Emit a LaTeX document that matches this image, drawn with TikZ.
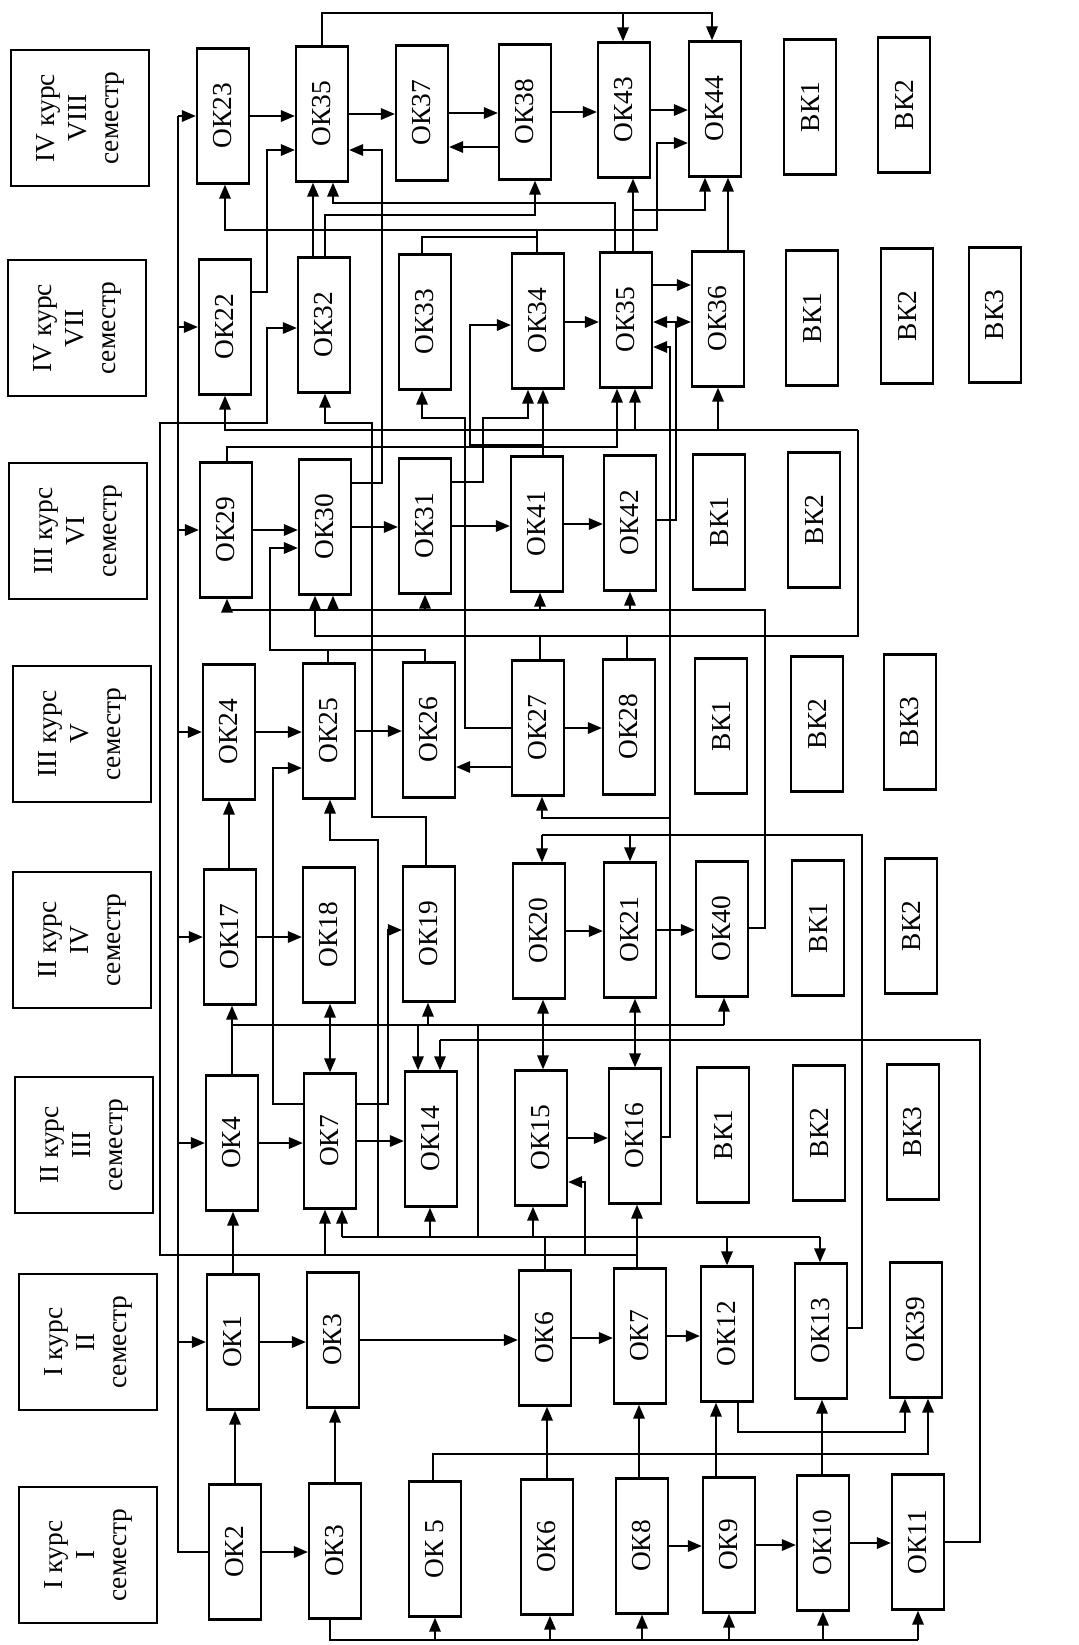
\documentclass[tikz,border=0pt]{standalone}
\usepackage{fontspec}
\setmainfont{Liberation Serif}
\usetikzlibrary{arrows.meta}

\newcommand{\rt}[1]{\rotatebox{90}{#1}}
\newcommand{\hd}[2]{\rotatebox{90}{\begin{tabular}{@{}c@{}}#1\\#2\\семестр\end{tabular}}}

\begin{document}
\begin{tikzpicture}[
    x=0.01cm, y=-0.01cm,
    okbox/.style={draw, line width=0.65pt, minimum width=0.52cm, minimum height=1.35cm,
      inner sep=0pt, font=\fontsize{7.8}{9}\selectfont},
    hdbox/.style={draw, line width=0.65pt, minimum width=1.38cm, minimum height=1.36cm,
      inner sep=0pt, font=\fontsize{7.8}{9.2}\selectfont},
    ln/.style={line width=0.5pt},
    arr/.style={ln, -{Triangle[length=1.4mm, width=1.15mm]}},
    darr/.style={ln, {Triangle[length=1.4mm, width=1.15mm]}-{Triangle[length=1.4mm, width=1.15mm]}},
  ]
  \useasboundingbox (0,0) rectangle (1078,1645);

  % semester headers
  \node[hdbox] (hd8) at (80,118) {\hd{IV курс}{VIII}};
  \node[hdbox] (hd7) at (77,328) {\hd{IV курс}{VII}};
  \node[hdbox] (hd6) at (78,531) {\hd{III курс}{VI}};
  \node[hdbox] (hd5) at (82,734) {\hd{III курс}{V}};
  \node[hdbox] (hd4) at (82,940) {\hd{II курс}{IV}};
  \node[hdbox] (hd3) at (84,1145) {\hd{II курс}{III}};
  \node[hdbox] (hd2) at (88,1342) {\hd{I курс}{II}};
  \node[hdbox] (hd1) at (88,1555) {\hd{I курс}{I}};

  % VIII semester
  \node[okbox] (ok23) at (223,116) {\rt{ОК23}};
  \node[okbox] (ok35r8) at (322,114) {\rt{ОК35}};
  \node[okbox] (ok37) at (422,113) {\rt{ОК37}};
  \node[okbox] (ok38) at (525,112) {\rt{ОК38}};
  \node[okbox] (ok43) at (624,110) {\rt{ОК43}};
  \node[okbox] (ok44) at (715,109) {\rt{ОК44}};
  \node[okbox] (vk1r8) at (810,107) {\rt{ВК1}};
  \node[okbox] (vk2r8) at (904,105) {\rt{ВК2}};

  % VII semester
  \node[okbox] (ok22) at (225,327) {\rt{ОК22}};
  \node[okbox] (ok32) at (324,325) {\rt{ОК32}};
  \node[okbox] (ok33) at (425,322) {\rt{ОК33}};
  \node[okbox] (ok34) at (538,321) {\rt{ОК34}};
  \node[okbox] (ok35r7) at (626,320) {\rt{ОК35}};
  \node[okbox] (ok36) at (718,319) {\rt{ОК36}};
  \node[okbox] (vk1r7) at (812,318) {\rt{ВК1}};
  \node[okbox] (vk2r7) at (907,316) {\rt{ВК2}};
  \node[okbox] (vk3r7) at (995,315) {\rt{ВК3}};

  % VI semester
  \node[okbox] (ok29) at (226,530) {\rt{ОК29}};
  \node[okbox] (ok30) at (325,527) {\rt{ОК30}};
  \node[okbox] (ok31) at (425,526) {\rt{ОК31}};
  \node[okbox] (ok41) at (537,524) {\rt{ОК41}};
  \node[okbox] (ok42) at (630,523) {\rt{ОК42}};
  \node[okbox] (vk1r6) at (719,522) {\rt{ВК1}};
  \node[okbox] (vk2r6) at (814,520) {\rt{ВК2}};

  % V semester
  \node[okbox] (ok24) at (229,732) {\rt{ОК24}};
  \node[okbox] (ok25) at (329,731) {\rt{ОК25}};
  \node[okbox] (ok26) at (429,730) {\rt{ОК26}};
  \node[okbox] (ok27) at (538,728) {\rt{ОК27}};
  \node[okbox] (ok28) at (629,727) {\rt{ОК28}};
  \node[okbox] (vk1r5) at (721,726) {\rt{ВК1}};
  \node[okbox] (vk2r5) at (817,724) {\rt{ВК2}};
  \node[okbox] (vk3r5) at (910,722) {\rt{ВК3}};

  % IV semester
  \node[okbox] (ok17) at (230,937) {\rt{ОК17}};
  \node[okbox] (ok18) at (329,935) {\rt{ОК18}};
  \node[okbox] (ok19) at (429,934) {\rt{ОК19}};
  \node[okbox] (ok20) at (539,931) {\rt{ОК20}};
  \node[okbox] (ok21) at (630,930) {\rt{ОК21}};
  \node[okbox] (ok40) at (722,929) {\rt{ОК40}};
  \node[okbox] (vk1r4) at (818,928) {\rt{ВК1}};
  \node[okbox] (vk2r4) at (911,926) {\rt{ВК2}};

  % III semester
  \node[okbox] (ok4) at (232,1143) {\rt{ОК4}};
  \node[okbox] (ok7r3) at (330,1141) {\rt{ОК7}};
  \node[okbox] (ok14) at (431,1139) {\rt{ОК14}};
  \node[okbox] (ok15) at (541,1138) {\rt{ОК15}};
  \node[okbox] (ok16) at (635,1136) {\rt{ОК16}};
  \node[okbox] (vk1r3) at (723,1135) {\rt{ВК1}};
  \node[okbox] (vk2r3) at (819,1133) {\rt{ВК2}};
  \node[okbox] (vk3r3) at (913,1132) {\rt{ВК3}};

  % II semester
  \node[okbox] (ok1) at (233,1342) {\rt{ОК1}};
  \node[okbox] (ok3r2) at (333,1340) {\rt{ОК3}};
  \node[okbox] (ok6r2) at (545,1338) {\rt{ОК6}};
  \node[okbox] (ok7r2) at (640,1336) {\rt{ОК7}};
  \node[okbox] (ok12) at (727,1334) {\rt{ОК12}};
  \node[okbox] (ok13) at (821,1331) {\rt{ОК13}};
  \node[okbox] (ok39) at (916,1330) {\rt{ОК39}};

  % I semester
  \node[okbox] (ok2) at (235,1552) {\rt{ОК2}};
  \node[okbox] (ok3r1) at (335,1551) {\rt{ОК3}};
  \node[okbox] (ok5) at (435,1549) {\rt{ОК 5}};
  \node[okbox] (ok6r1) at (547,1547) {\rt{ОК6}};
  \node[okbox] (ok8) at (642,1546) {\rt{ОК8}};
  \node[okbox] (ok9) at (729,1545) {\rt{ОК9}};
  \node[okbox] (ok10) at (823,1543) {\rt{ОК10}};
  \node[okbox] (ok11) at (918,1542) {\rt{ОК11}};

  % arrows inside the rows
  \foreach \a/\b in {ok2/ok3r1, ok8/ok9, ok9/ok10, ok10/ok11,
      ok1/ok3r2, ok3r2/ok6r2, ok6r2/ok7r2, ok7r2/ok12,
      ok4/ok7r3, ok7r3/ok14, ok15/ok16,
      ok17/ok18, ok20/ok21, ok21/ok40,
      ok24/ok25, ok25/ok26, ok27/ok28,
      ok29/ok30, ok30/ok31, ok31/ok41, ok41/ok42,
      ok23/ok35r8, ok35r8/ok37, ok37/ok38, ok38/ok43, ok43/ok44}
    \draw[arr] (\a.east) -- (\a.east -| \b.west);
  \draw[arr] (ok27.west |- 0,767) -- (ok26.east |- 0,767);
  \draw[arr] (ok38.west |- 0,147) -- (ok37.east |- 0,147);

  % arrows between the rows
  \draw[arr] (ok2.north) -- (ok2.north |- ok1.south);
  \draw[arr] (ok3r1.north) -- (ok3r1.north |- ok3r2.south);
  \draw[arr] (ok6r1.north) -- (ok6r1.north |- ok6r2.south);
  \draw[arr] (ok8.north -| 639,0) -- (ok7r2.south -| 639,0);
  \draw[arr] (ok9.north -| 716,0) -- (ok12.south -| 716,0);
  \draw[arr] (ok10.north -| 822,0) -- (ok13.south -| 822,0);
  \draw[arr] (ok1.north) -- (ok1.north |- ok4.south);
  \draw[arr] (ok4.north -| 232,0) -- (ok17.south -| 232,0);
  \draw[arr] (ok17.north -| 229,0) -- (ok24.south -| 229,0);
  \draw[arr] (ok41.north -| 543,0) -- (ok34.south -| 543,0);
  \draw[arr] (ok32.north -| 313,0) -- (ok35r8.south -| 313,0);
  \draw[arr] (ok35r7.north -| 633,0) -- (ok43.south -| 633,0);
  \draw[arr] (ok36.north -| 728,0) -- (ok44.south -| 728,0);
  \draw[darr] (ok7r3.north -| 330,0) -- (ok18.south -| 330,0);
  \draw[darr] (ok15.north -| 543,0) -- (ok20.south -| 543,0);
  \draw[darr] (ok16.north -| 635,0) -- (ok21.south -| 635,0);

  % OK2 feeds every semester
  \draw[ln] (ok2.west) -- (ok2.west -| 178,0) -- (178,116);
  \foreach \n in {ok1, ok4, ok17, ok24, ok29, ok22, ok23}
    \draw[arr] (\n.west -| 178,0) -- (\n.west);

  % bottom bus from OK3
  \draw[ln] (ok3r1.south -| 330,0) -- (330,1640) -- (918,1640);
  \foreach \n/\x in {ok5/435, ok6r1/550, ok8/642, ok9/729, ok10/823, ok11/918}
    \draw[arr] (\x,1640) -- (\n.south -| \x,0);

  % I--II
  \draw[arr] (ok5.north -| 433,0) |- (928,1454) -- (ok39.south -| 928,0);
  \draw[arr] (ok12.south -| 738,0) |- (905,1432) -- (ok39.south -| 905,0);

  % II--III
  \draw[ln] (ok6r2.north -| 545,0) -- (545,1237);
  \draw[ln] (342,1237) -- (820,1237);
  \foreach \n/\x in {ok7r3/342, ok14/430, ok15/533}
    \draw[arr] (\x,1237) -- (\n.south -| \x,0);
  \draw[arr] (727,1237) -- (ok12.north -| 727,0);
  \draw[arr] (820,1237) -- (ok13.north -| 820,0);
  \draw[arr] (ok7r2.north -| 637,0) -- (ok16.south -| 637,0);
  \draw[arr] (637,1255) -| (160,423) -| (267,328) -- (ok32.west |- 0,328);
  \draw[arr] (325,1255) -- (ok7r3.south -| 325,0);
  \draw[arr] (585,1255) |- (ok15.east |- 0,1182);
  \draw[arr] (378,1237) |- (330,840) -- (ok25.south -| 330,0);
  \draw[ln] (478,1237) -- (478,1025);
  \draw[ln] (ok13.east |- 0,1328) -| (862,835) -- (542,835);
  \draw[arr] (542,835) -- (ok20.north -| 542,0);
  \draw[arr] (630,835) -- (ok21.north -| 630,0);
  \draw[ln] (ok11.east) -- (ok11.east -| 980,0) -- (980,1040) -- (440,1040);
  \draw[arr] (440,1040) -- (ok14.north -| 440,0);

  % III--IV
  \draw[ln] (232,1025) -- (724,1025);
  \draw[arr] (428,1025) -- (ok19.south -| 428,0);
  \draw[arr] (724,1025) -- (ok40.south -| 724,0);
  \draw[arr] (418,1025) -- (ok14.north -| 418,0);
  \draw[arr] (ok7r3.west |- 0,1104) -| (273,768) -- (ok25.west |- 0,768);
  \draw[arr] (ok7r3.east |- 0,1104) -| (388,930) -- (ok19.west |- 0,930);
  \draw[arr] (ok16.east |- 0,1137) -| (670,818) -- (542,818) -- (ok27.south -| 542,0);
  \draw[arr] (670,818) -- (670,347) -- (ok35r7.east |- 0,347);

  % IV--VI
  \draw[ln] (ok40.east |- 0,928) -| (765,610) -- (227,610);
  \foreach \n/\x in {ok29/227, ok30/333, ok31/425, ok41/540, ok42/630}
    \draw[arr] (\x,610) -- (\n.south -| \x,0);
  \draw[arr] (ok19.north -| 426,0) |- (372,817) |- (325,423) -- (ok32.south -| 325,0);
  \draw[arr] (ok27.west |- 0,728) -| (465,418) -| (ok33.south -| 422,0);

  % V--VI
  \draw[ln] (ok25.north -| 328,0) -- (328,650);
  \draw[arr] (ok26.north -| 425,0) |- (270,650) |- (ok30.west |- 0,548);
  \draw[ln] (ok27.north -| 540,0) -- (540,636);
  \draw[ln] (ok28.north -| 627,0) -- (627,636);
  \draw[arr] (858,430) -- (858,636) -- (315,636) -- (ok30.south -| 315,0);
  \draw[arr] (858,430) -| (ok22.south -| 225,0);
  \draw[arr] (635,430) -- (ok35r7.south -| 635,0);
  \draw[arr] (718,430) -- (ok36.south -| 718,0);

  % VI--VII
  \draw[arr] (ok29.north -| 227,0) |- (617,447) -- (ok35r7.south -| 617,0);
  \draw[arr] (ok30.east |- 0,483) -| (382,150) -- (ok35r8.east |- 0,150);
  \draw[arr] (ok31.east |- 0,482) -| (483,418) -| (ok34.south -| 528,0);
  \draw[arr] (543,445) -| (470,325) -- (ok34.west |- 0,325);

  % VII
  \draw[arr] (ok34.east |- 0,322) -- (ok35r7.west |- 0,322);
  \draw[arr] (ok35r7.east |- 0,285) -- (ok36.west |- 0,285);
  \draw[arr] (ok42.east |- 0,520) -| (676,322) -- (ok36.west |- 0,322);
  \draw[arr] (676,322) -- (ok35r7.east |- 0,322);

  % VII--VIII
  \draw[arr] (ok22.east |- 0,292) -| (267,150) -- (ok35r8.west |- 0,150);
  \draw[arr] (ok32.north -| 325,0) |- (535,215) -- (ok38.south -| 535,0);
  \draw[arr] (ok35r7.north -| 615,0) |- (333,203) -- (ok35r8.south -| 333,0);
  \draw[arr] (633,210) -| (ok44.south -| 705,0);
  \draw[arr] (ok34.north -| 537,0) |- (225,230) -- (ok23.south -| 225,0);
  \draw[arr] (537,230) -| (657,143) -- (ok44.west |- 0,143);
  \draw[ln] (ok33.north -| 422,0) |- (537,237);

  % VIII
  \draw[arr] (ok35r8.north -| 322,0) |- (712,13) -- (ok44.north -| 712,0);
  \draw[arr] (623,13) -- (ok43.north -| 623,0);
\end{tikzpicture}
\end{document}
